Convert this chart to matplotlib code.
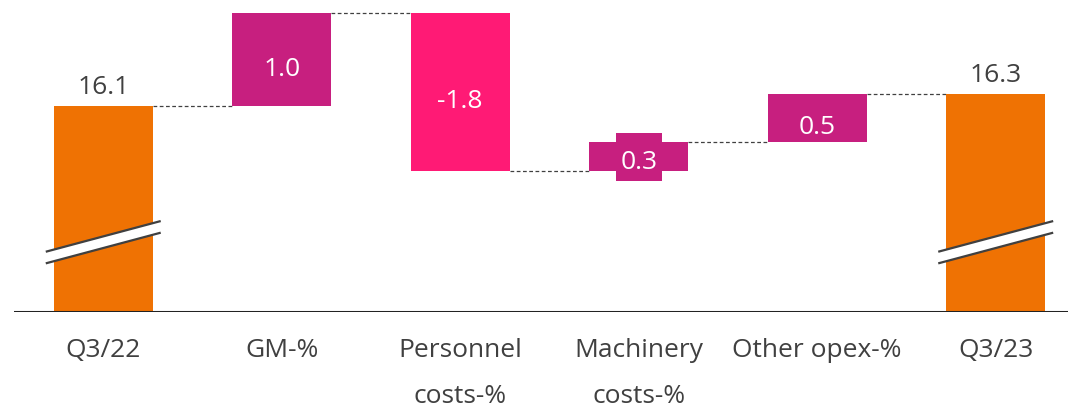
import matplotlib.pyplot as plt
from matplotlib.patches import Polygon, Rectangle

plt.rcParams['font.family'] = ['Open Sans', 'DejaVu Sans']

categories = ["Q3/22", "GM-%", "Personnel\ncosts-%", "Machinery\ncosts-%", "Other opex-%", "Q3/23"]
start_value = 16.1
deltas = [1.0, -1.7, 0.31, 0.52]
value_labels = ["16.1", "1.0", "-1.8", "0.3", "0.5", "16.3"]

orange = "#EF7203"
magenta = "#C71F7F"
pink = "#FF1A75"
text_col = "#404040"
delta_colors = [magenta, pink, magenta, magenta]

y_min, y_max = 13.885, 17.24
bar_w = 0.555
half = bar_w / 2
fs = 19

fig = plt.figure(figsize=(10.68, 4.08), dpi=100)
ax = fig.add_axes([14 / 1068, 96 / 408, 1054 / 1068, 312 / 408])
ax.set_xlim(-0.5, 5.405)
ax.set_ylim(y_min, y_max)

# running totals
levels = [start_value]
for d in deltas:
    levels.append(levels[-1] + d)
end_value = levels[-1]

# totals
for i, v in [(0, start_value), (5, end_value)]:
    ax.bar(i, v - y_min, bottom=y_min, width=bar_w, color=orange, zorder=2)
    ax.annotate(value_labels[i], (i, v), xytext=(0, 4), textcoords="offset points",
                ha="center", va="bottom", fontsize=fs, color=text_col)

    # axis break marks
    xl, xr = i - 0.322, i + 0.322
    yl, yr = y_min + 0.648, y_min + 0.978
    gap = 0.125
    ax.add_patch(Polygon([(xl, yl), (xr, yr), (xr, yr - gap), (xl, yl - gap)],
                         closed=True, facecolor="white", edgecolor="none", zorder=3))
    ax.plot([xl, xr], [yl, yr], color="#404040", lw=1.6, zorder=4, solid_capstyle="butt")
    ax.plot([xl, xr], [yl - gap, yr - gap], color="#404040", lw=1.6, zorder=4, solid_capstyle="butt")

# deltas
for k, d in enumerate(deltas):
    i = k + 1
    lo = min(levels[k], levels[k + 1])
    ax.bar(i, abs(d), bottom=lo, width=bar_w, color=delta_colors[k], zorder=2)
    mid = lo + abs(d) / 2
    off = -7
    if k == 2:
        # small bar: label sits on its own background box
        ax.add_patch(Rectangle((i - 0.129, mid - 0.258), 0.258, 0.516,
                               facecolor=delta_colors[k], edgecolor="none", zorder=3))
        off = -4
    ax.annotate(value_labels[i], (i, mid), xytext=(0, off), textcoords="offset points",
                ha="center", va="center", fontsize=fs, color="white", zorder=5)

# connectors
for k, lvl in enumerate(levels):
    ax.plot([k + half, k + 1 - half], [lvl, lvl], color="#404040", lw=0.9,
            dashes=(3, 2), zorder=1)

ax.axhline(y_min, color="#222222", lw=2.2, zorder=5)

ax.set_xticks(range(len(categories)))
ax.set_xticklabels(categories, fontsize=fs, color=text_col, linespacing=2.1, va="top")
ax.tick_params(axis="x", length=0, pad=19)
ax.set_yticks([])
for s in ax.spines.values():
    s.set_visible(False)

fig.savefig("out.png", dpi=100)
